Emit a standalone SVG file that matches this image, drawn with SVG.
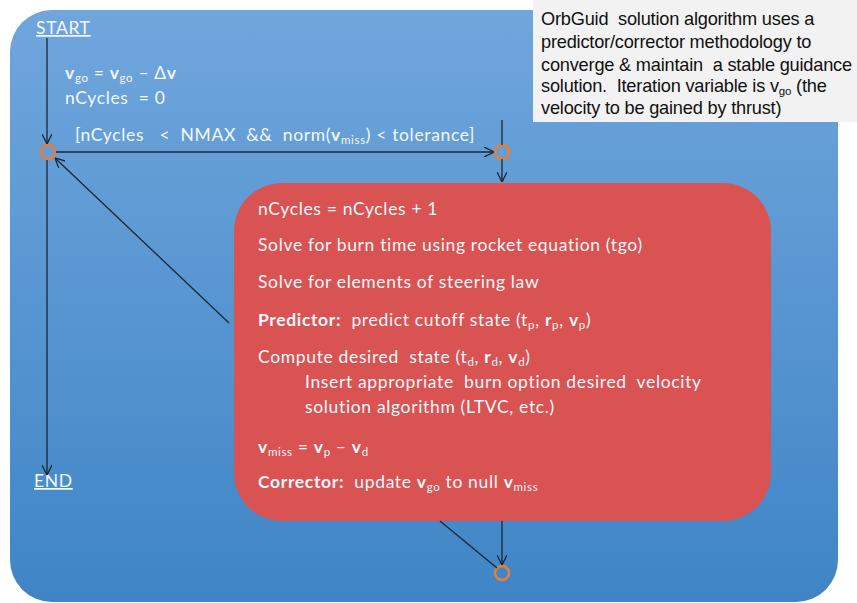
<svg xmlns="http://www.w3.org/2000/svg" width="857" height="603" viewBox="0 0 857 603">
<defs>
<linearGradient id="bg" x1="0" y1="0" x2="0" y2="1">
<stop offset="0" stop-color="#70a6dc"/>
<stop offset="1" stop-color="#3f85c6"/>
</linearGradient>
<marker id="arr" viewBox="0 0 10 10" refX="10" refY="5" markerWidth="10" markerHeight="10" markerUnits="userSpaceOnUse" orient="auto">
<path d="M0,0 L10,5 L0,10" fill="none" stroke="#1a2633" stroke-width="1.3"/>
</marker>
<style>
text{white-space:pre}
.t{font-family:Lato,"Liberation Sans",sans-serif;font-size:17.5px;letter-spacing:0.65px;fill:#f4f7fb}
.b{font-weight:bold}
.s{font-size:11.5px}
.n{font-family:"Liberation Sans",Arial,sans-serif;font-size:18.2px;letter-spacing:-0.2px;fill:#111}
.ln{stroke:#1a2633;stroke-width:1.3;fill:none}
.c{fill:none;stroke:#ed7d31;stroke-width:2.5}
</style>
</defs>
<rect x="0" y="0" width="857" height="603" fill="#ffffff"/>
<g id="frame">
<rect x="10" y="10" width="828" height="592" rx="42" ry="42" fill="url(#bg)"/>
</g>
<g id="note">
<rect x="533" y="0" width="330" height="122" fill="#f2f2f2"/>
<text class="n" x="541" y="25">OrbGuid  solution algorithm uses a</text>
<text class="n" x="541" y="48">predictor/corrector methodology to</text>
<text class="n" x="541" y="71">converge &amp; maintain  a stable guidance</text>
<text class="n" x="541" y="92">solution.  Iteration variable is v<tspan font-size="11.5" dy="3">go</tspan><tspan dy="-3"> (the</tspan></text>
<text class="n" x="541" y="114">velocity to be gained by thrust)</text>
</g>
<g id="start">
<text class="t" x="36" y="34" text-decoration="underline">START</text>
</g>
<g id="end">
<text class="t" x="34" y="487" text-decoration="underline">END</text>
</g>
<g id="init">
<text class="t" x="65" y="79"><tspan class="b">v</tspan><tspan class="s" dy="3">go</tspan><tspan dy="-3"> = </tspan><tspan class="b">v</tspan><tspan class="s" dy="3">go</tspan><tspan dy="-3"> – Δ</tspan><tspan class="b">v</tspan></text>
<text class="t" x="65" y="104">nCycles  = 0</text>
</g>
<g id="guard">
<text class="t" x="75" y="141">[nCycles   &lt;  NMAX  &amp;&amp;  norm(<tspan class="b">v</tspan><tspan class="s" dy="3">miss</tspan><tspan dy="-3">) &lt; tolerance]</tspan></text>
</g>
<g id="merge">
<circle class="c" cx="48" cy="152" r="7"/>
</g>
<g id="decision">
<circle class="c" cx="502" cy="152" r="7"/>
</g>
<g id="join">
<circle class="c" cx="502" cy="573" r="7"/>
</g>
<g id="loop">
<rect x="234" y="183" width="537" height="338" rx="48" ry="48" fill="#d95353"/>
<text class="t" x="258" y="215">nCycles = nCycles + 1</text>
<text class="t" x="258" y="251">Solve for burn time using rocket equation (tgo)</text>
<text class="t" x="258" y="288">Solve for elements of steering law</text>
<text class="t" x="258" y="326"><tspan class="b">Predictor:</tspan>  predict cutoff state (t<tspan class="s" dy="3">p</tspan><tspan dy="-3">, </tspan><tspan class="b">r</tspan><tspan class="s" dy="3">p</tspan><tspan dy="-3">, </tspan><tspan class="b">v</tspan><tspan class="s" dy="3">p</tspan><tspan dy="-3">)</tspan></text>
<text class="t" x="258" y="363">Compute desired  state (t<tspan class="s" dy="3">d</tspan><tspan dy="-3">, </tspan><tspan class="b">r</tspan><tspan class="s" dy="3">d</tspan><tspan dy="-3">, </tspan><tspan class="b">v</tspan><tspan class="s" dy="3">d</tspan><tspan dy="-3">)</tspan></text>
<text class="t" x="305" y="388">Insert appropriate  burn option desired  velocity</text>
<text class="t" x="305" y="413">solution algorithm (LTVC, etc.)</text>
<text class="t" x="258" y="453"><tspan class="b">v</tspan><tspan class="s" dy="3">miss</tspan><tspan dy="-3"> = </tspan><tspan class="b">v</tspan><tspan class="s" dy="3">p</tspan><tspan dy="-3"> – </tspan><tspan class="b">v</tspan><tspan class="s" dy="3">d</tspan></text>
<text class="t" x="258" y="488"><tspan class="b">Corrector:</tspan>  update <tspan class="b">v</tspan><tspan class="s" dy="3">go</tspan><tspan dy="-3"> to null </tspan><tspan class="b">v</tspan><tspan class="s" dy="3">miss</tspan></text>
</g>
<g id="connectors">
<line class="ln" x1="47" y1="38" x2="47" y2="144" marker-end="url(#arr)"/>
<line class="ln" x1="47" y1="160" x2="47" y2="475" marker-end="url(#arr)"/>
<line class="ln" x1="56" y1="152" x2="494" y2="152" marker-end="url(#arr)"/>
<line class="ln" x1="502" y1="120" x2="502" y2="145"/>
<line class="ln" x1="502" y1="159" x2="502" y2="182" marker-end="url(#arr)"/>
<line class="ln" x1="229" y1="323" x2="55" y2="158" marker-end="url(#arr)"/>
<line class="ln" x1="502" y1="521" x2="502" y2="565" marker-end="url(#arr)"/>
<line class="ln" x1="440" y1="521" x2="497" y2="568"/>
</g>
</svg>
